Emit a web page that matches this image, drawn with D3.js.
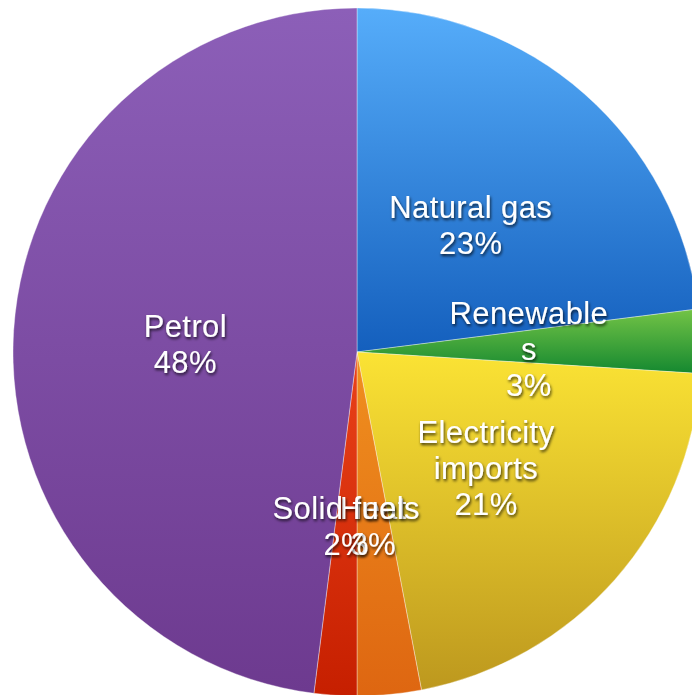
<!DOCTYPE html>
<html>
<head>
<meta charset="utf-8">
<script src="https://cdn.jsdelivr.net/npm/d3@7"></script>
<style>
  html, body { margin: 0; padding: 0; background: #fff; }
  svg { display: block; }
</style>
</head>
<body>
<svg id="chart" width="692" height="695"></svg>
<script>
// Energy sources, clockwise from 12 o'clock
const categories = ["Natural gas", "Renewables", "Electricity imports", "Heat", "Solid fuels", "Petrol"];
const shares = [23, 3, 21, 3, 2, 48];
// How each category name wraps inside its slice
const labelLines = [["Natural gas"], ["Renewable", "s"], ["Electricity", "imports"], ["Heat"], ["Solid fuels"], ["Petrol"]];
// Top / bottom colours of each slice's gradient
const topColors = ["#56adfa", "#74c446", "#fbe334", "#f0901f", "#ea4219", "#8c5fb8"];
const bottomColors = ["#145fbd", "#148830", "#bd981e", "#de6611", "#c61f00", "#6d3a8f"];

const svg = d3.select("#chart");
const cx = 357, cy = 352, radius = 344;

const defs = svg.append("defs");
categories.forEach((c, i) => {
  const g = defs.append("linearGradient")
    .attr("id", "grad" + i)
    .attr("x1", 0).attr("y1", 0).attr("x2", 0).attr("y2", 1);
  g.append("stop").attr("offset", "0%").attr("stop-color", topColors[i]);
  g.append("stop").attr("offset", "100%").attr("stop-color", bottomColors[i]);
});

const shadow = defs.append("filter").attr("id", "textShadow")
  .attr("x", "-20%").attr("y", "-40%").attr("width", "140%").attr("height", "180%");
shadow.append("feDropShadow")
  .attr("dx", 1).attr("dy", 2).attr("stdDeviation", 1.4)
  .attr("flood-color", "#000").attr("flood-opacity", 0.75);

const pie = d3.pie().sort(null).value(d => d.value);
const arcs = pie(categories.map((c, i) => ({ name: c, value: shares[i], idx: i })));

const arc = d3.arc().innerRadius(0).outerRadius(radius);
const labelArc = d3.arc().innerRadius(172).outerRadius(172);

const g = svg.append("g").attr("transform", `translate(${cx},${cy})`);

g.selectAll("path.slice")
  .data(arcs)
  .join("path")
  .attr("class", "slice")
  .attr("d", arc)
  .attr("fill", d => `url(#grad${d.data.idx})`)
  .attr("stroke", "rgba(255,255,255,0.45)")
  .attr("stroke-width", 0.8);

const lineHeight = 36;
const labels = g.selectAll("g.label")
  .data(arcs)
  .join("g")
  .attr("class", "label")
  .attr("transform", d => {
    const [x, y] = labelArc.centroid(d);
    return `translate(${x},${y + 3})`;
  })
  .attr("filter", "url(#textShadow)");

labels.each(function(d) {
  const lines = labelLines[d.data.idx].concat([d.data.value + "%"]);
  const t = d3.select(this).append("text")
    .attr("text-anchor", "middle")
    .attr("font-family", "'Liberation Sans', Arial, Helvetica, sans-serif")
    .attr("font-size", 31)
    .attr("letter-spacing", 0.4)
    .attr("fill", "#fff");
  lines.forEach((ln, k) => {
    t.append("tspan")
      .attr("x", 0)
      .attr("y", (k - (lines.length - 1) / 2) * lineHeight)
      .attr("dominant-baseline", "central")
      .text(ln);
  });
});
</script>
</body>
</html>
